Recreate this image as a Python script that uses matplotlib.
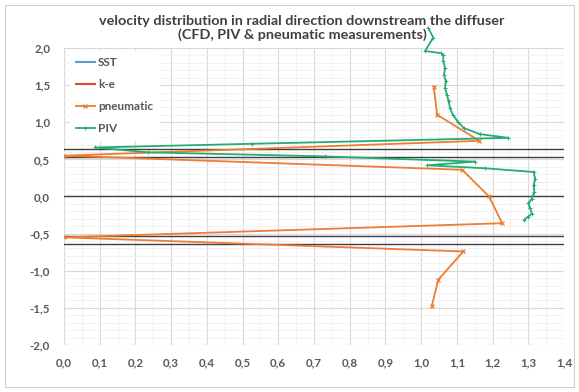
import matplotlib
matplotlib.use("Agg")
import matplotlib.pyplot as plt
from matplotlib.ticker import MultipleLocator, FuncFormatter
from matplotlib.patches import Rectangle

# pneumatic probe traverse (velocity ratio vs. radial position)
pneu_x = [1.035, 1.045, 1.163, 0.0, 1.115, 1.19, 1.227, 0.0, 1.118, 1.048, 1.03]
pneu_y = [1.48, 1.10, 0.75, 0.55, 0.36, 0.0, -0.36, -0.55, -0.74, -1.12, -1.47]

# PIV profile
piv_x = [1.02, 1.034, 1.011, 1.056, 1.062, 1.062, 1.067, 1.064, 1.069, 1.067,
         1.072, 1.077, 1.081, 1.089, 1.102, 1.12, 1.165, 1.244, 0.527, 0.087,
         0.235, 0.73, 1.151, 1.017, 1.18, 1.315, 1.319, 1.315, 1.317, 1.310,
         1.30, 1.305, 1.31, 1.30, 1.289]
piv_y = [2.27, 2.14, 1.96, 1.93, 1.91, 1.82, 1.73, 1.64, 1.55, 1.46,
         1.37, 1.28, 1.19, 1.10, 1.01, 0.92, 0.84, 0.79, 0.71, 0.66,
         0.595, 0.54, 0.47, 0.42, 0.38, 0.33, 0.24, 0.15, 0.06, -0.03,
         -0.09, -0.16, -0.23, -0.27, -0.31]

# CFD series (no points in this range)
sst_x, sst_y = [], []
ke_x, ke_y = [], []

# diffuser wall positions
wall_y = [0.645, 0.535, 0.0, -0.535, -0.645]

title = ("velocity distribution in radial direction downstream the diffuser\n"
         "(CFD, PIV & pneumatic measurements)")

plt.rcParams['font.family'] = ['Lato', 'DejaVu Sans']

fig = plt.figure(figsize=(5.79, 3.92), dpi=100)
ax = fig.add_axes([64 / 579, 1 - 345 / 392, 500 / 579, 297 / 392])

ax.set_xlim(0, 1.4)
ax.set_ylim(-2, 2)
ax.xaxis.set_major_locator(MultipleLocator(0.1))
ax.xaxis.set_minor_locator(MultipleLocator(0.05))
ax.yaxis.set_major_locator(MultipleLocator(0.5))
ax.yaxis.set_minor_locator(MultipleLocator(0.1))
comma = FuncFormatter(lambda v, p: f"{v:.1f}".replace(".", ",").replace("-0,0", "0,0"))
ax.xaxis.set_major_formatter(comma)
ax.yaxis.set_major_formatter(comma)
ax.grid(which='major', color='#d9d9d9', lw=0.8)
ax.grid(which='minor', color='#f0f0f0', lw=0.6)
ax.set_axisbelow(True)
for s in ax.spines.values():
    s.set_visible(False)
ax.tick_params(which='both', length=0, labelsize=8.3, colors='#595959')
ax.tick_params(axis='x', pad=9)
ax.tick_params(axis='y', pad=10)
for lab in ax.get_xticklabels() + ax.get_yticklabels():
    lab.set_fontweight('bold')

for y in wall_y:
    ax.axhline(y, color='#3f3f3f', lw=1.0, zorder=2)

ax.plot(sst_x, sst_y, color='#5b9bd5', lw=1.5, label='SST')
ax.plot(ke_x, ke_y, color='#e0483c', lw=1.5, label='k-e')
ax.plot(pneu_x, pneu_y, color='#ed7d31', lw=1.3, marker='x', ms=3.5,
        mew=0.9, label='pneumatic', zorder=3)
ax.plot(piv_x, piv_y, color='#25ac74', lw=1.3, marker='+', ms=3,
        mew=0.7, label='PIV', zorder=4, clip_on=False)

leg = ax.legend(loc='upper left', bbox_to_anchor=(0.0, 1.01), fontsize=8.5,
                handlelength=1.6, handletextpad=0.3, labelspacing=0.95,
                frameon=True, fancybox=False, borderpad=0.5)
leg.get_frame().set_edgecolor('white')
leg.get_frame().set_alpha(1)
for t in leg.get_texts():
    t.set_color('#595959')
    t.set_fontweight('bold')

fig.text(302 / 579, 1 - 28 / 392, title, ha='center', va='center',
         fontsize=10.4, fontweight='bold', color='#404040', linespacing=1.2)

fig.patches.append(Rectangle((5 / 579, 5 / 392), 569 / 579, 382 / 392,
                             transform=fig.transFigure, fill=False,
                             edgecolor='#d0d0d0', lw=0.8))

fig.savefig('out.png', dpi=100)
